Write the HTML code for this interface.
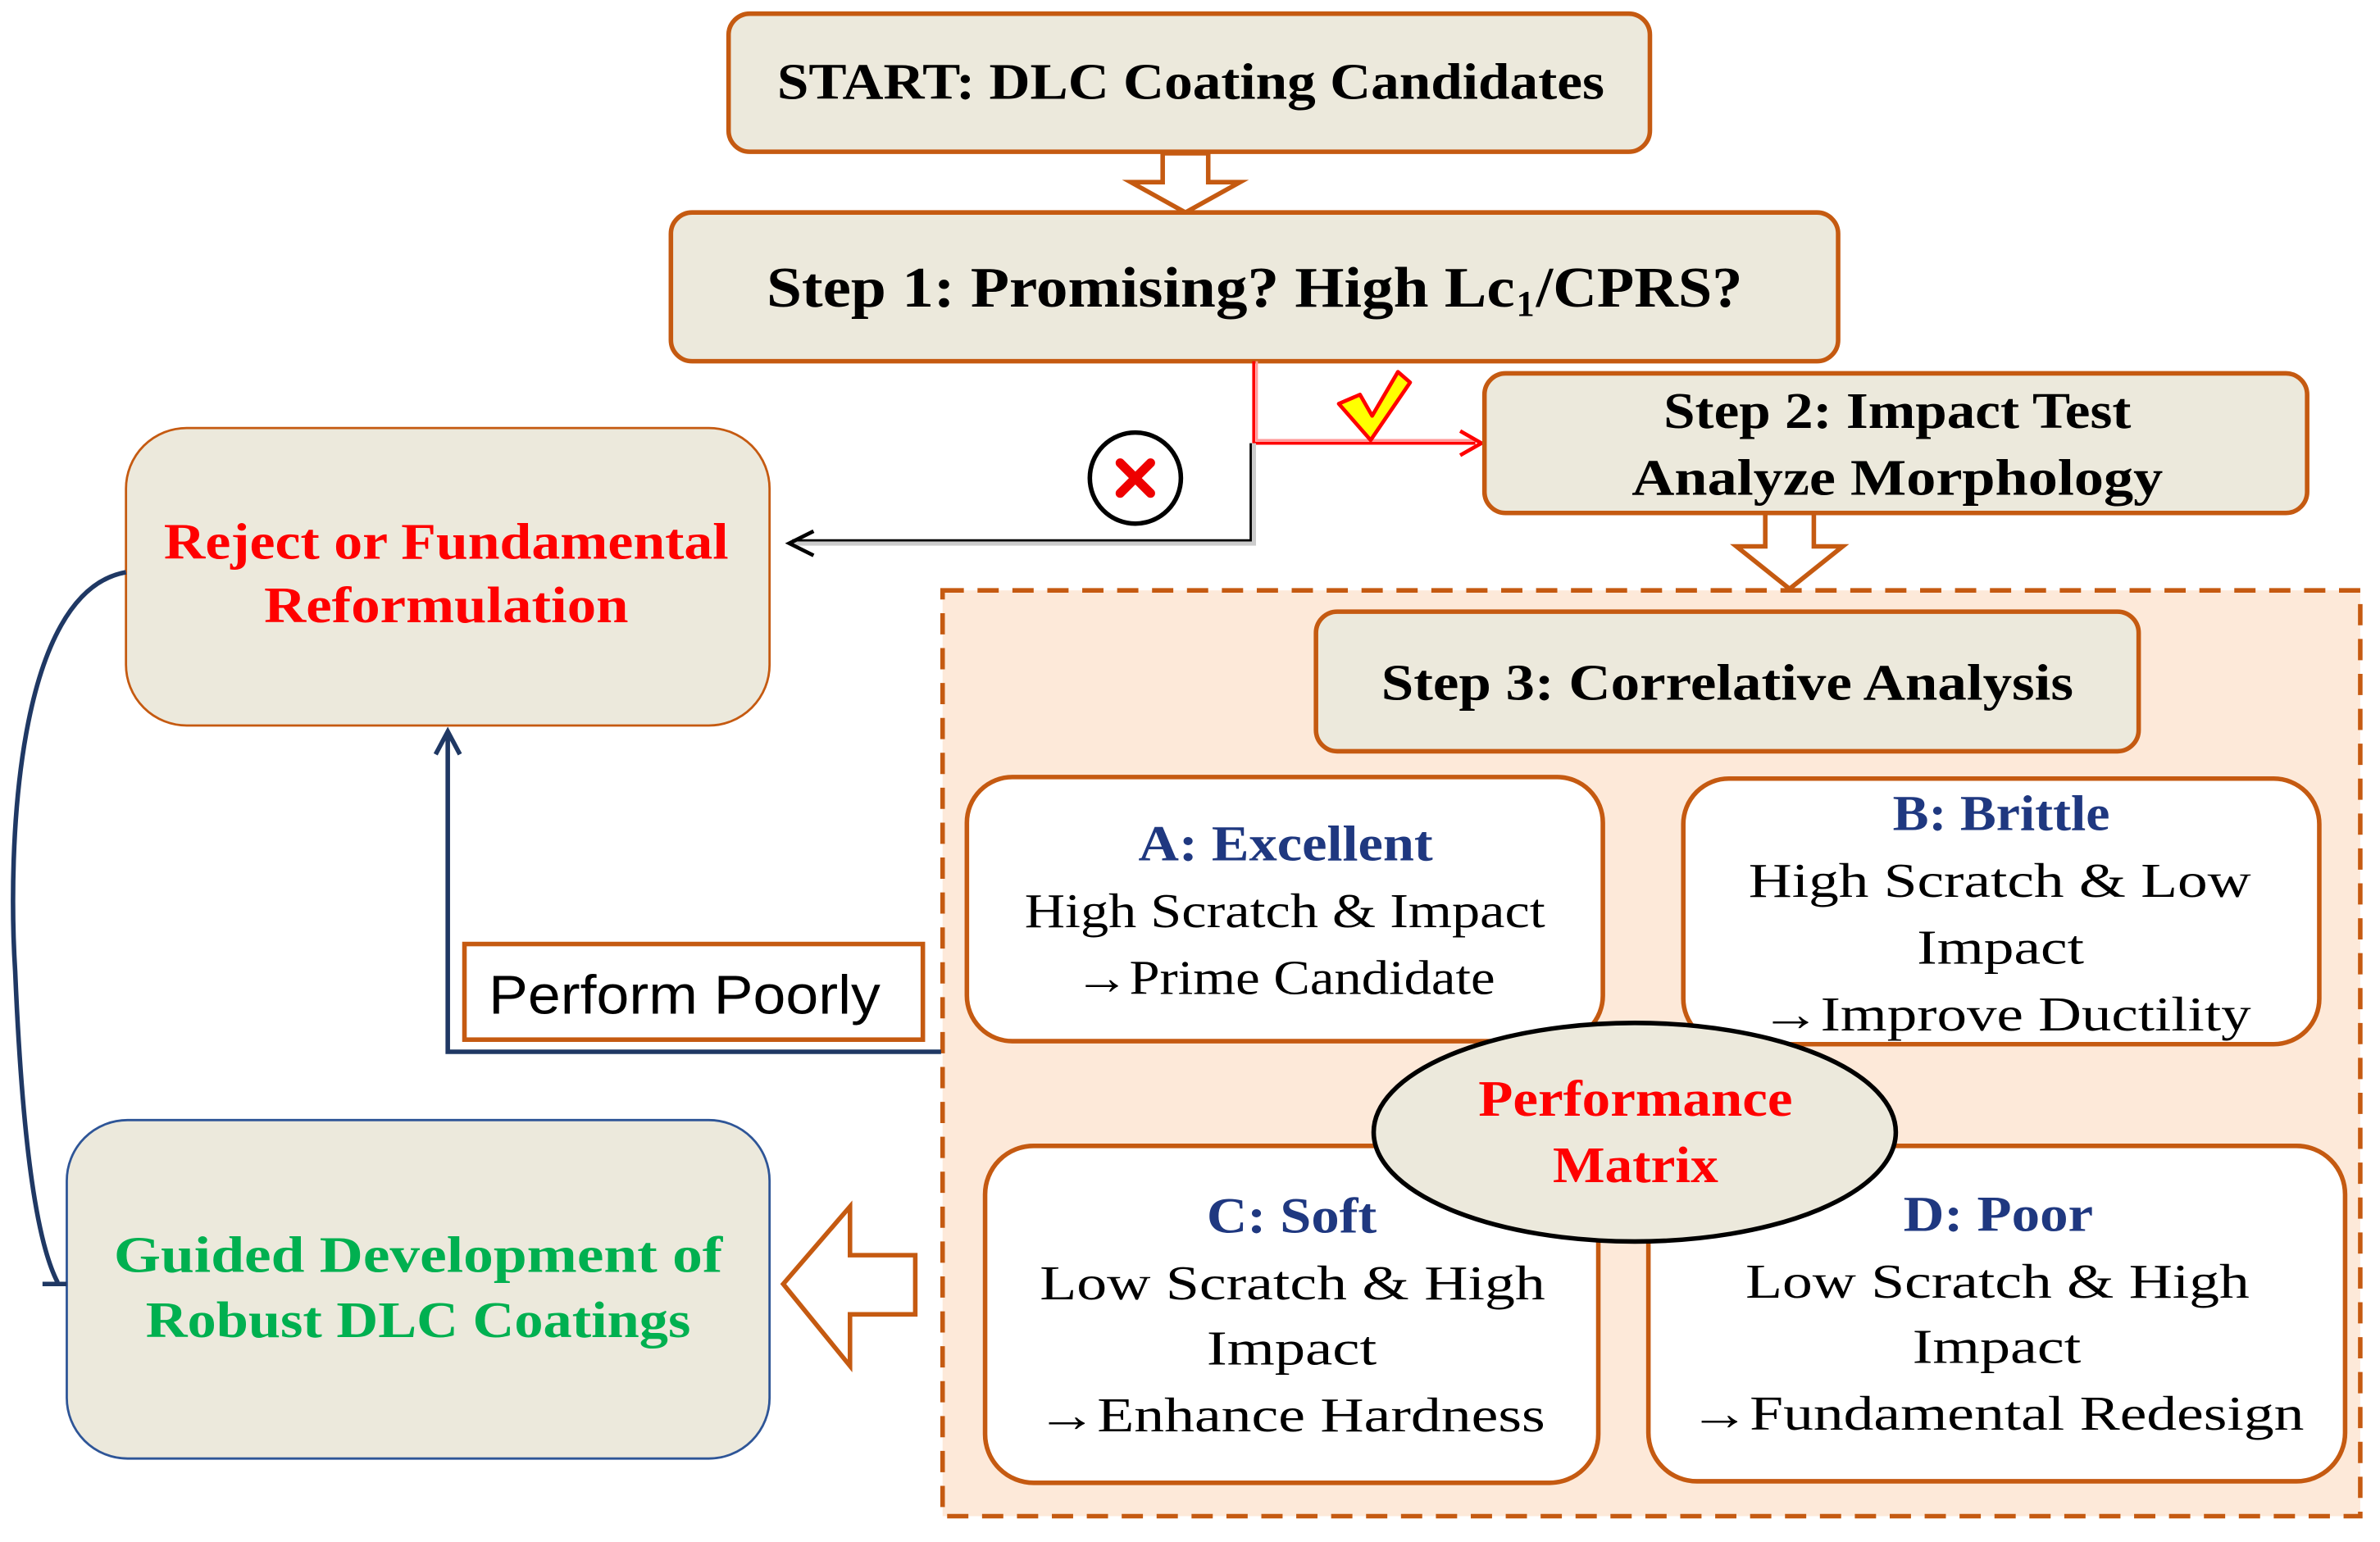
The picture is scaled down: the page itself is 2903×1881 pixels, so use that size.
<!DOCTYPE html>
<html><head><meta charset="utf-8"><style>html,body{margin:0;padding:0;background:#fff}svg{display:block}</style></head>
<body>
<svg width="2903" height="1881" viewBox="0 0 1568 1016" preserveAspectRatio="none" xmlns="http://www.w3.org/2000/svg" font-family="Liberation Serif, serif">
<rect width="1568" height="1016" fill="#fff"/>
<rect x="621" y="389" width="934" height="610" fill="#fde9d9" stroke="#c55a11" stroke-width="3" stroke-dasharray="14,9"/>
<rect x="480" y="9" width="607" height="91" rx="14" fill="#ece9dc" stroke="#c55a11" stroke-width="3"/>
<text x="512" y="65" font-size="34" font-weight="bold" textLength="545" lengthAdjust="spacingAndGlyphs">START: DLC Coating Candidates</text>
<path d="M766 101 H796 V120 H817 L781 140 L745 120 H766 Z" fill="#fff" stroke="#c55a11" stroke-width="3"/>
<rect x="442" y="140" width="769" height="98" rx="14" fill="#ece9dc" stroke="#c55a11" stroke-width="3"/>
<text x="505" y="202" font-size="38" font-weight="bold" textLength="493" lengthAdjust="spacingAndGlyphs">Step 1: Promising? High Lc</text>
<text x="999" y="208" font-size="24" font-weight="bold">1</text>
<text x="1012" y="202" font-size="38" font-weight="bold" textLength="136" lengthAdjust="spacingAndGlyphs">/CPRS?</text>
<path d="M826 238 V292 H972" fill="none" stroke="#f00" stroke-width="2"/>
<path d="M828 238 V290 H972" fill="none" stroke="#f99" stroke-width="1.5"/>
<path d="M962 284 L976 292 L962 300" fill="none" stroke="#f00" stroke-width="2.5"/>
<path d="M826 292 V358 H522" fill="none" stroke="#ccc" stroke-width="3"/>
<path d="M824 292 V356 H522" fill="none" stroke="#000" stroke-width="1.5"/>
<path d="M536 350 L520 358 L536 366" fill="none" stroke="#000" stroke-width="2.5"/>
<path d="M882 266 L896 260 L904 274 L921 245 L929 252 L903 290 Z" fill="#ff0" stroke="#f00" stroke-width="2.5" stroke-linejoin="round"/>
<circle cx="748" cy="315" r="30" fill="#fff" stroke="#000" stroke-width="3"/>
<path d="M738 305 L758 325 M758 305 L738 325" stroke="#e00" stroke-width="6" stroke-linecap="round"/>
<rect x="978" y="246" width="542" height="92" rx="14" fill="#ece9dc" stroke="#c55a11" stroke-width="3"/>
<text x="1096" y="282" font-size="34" font-weight="bold" textLength="308" lengthAdjust="spacingAndGlyphs">Step 2: Impact Test</text>
<text x="1075" y="326" font-size="34" font-weight="bold" textLength="350" lengthAdjust="spacingAndGlyphs">Analyze Morphology</text>
<path d="M1163 338 H1195 V360 H1214 L1179 388 L1144 360 H1163 Z" fill="#fff" stroke="#c55a11" stroke-width="3"/>
<rect x="867" y="403" width="542" height="92" rx="14" fill="#ece9dc" stroke="#c55a11" stroke-width="3"/>
<text x="910" y="461" font-size="34" font-weight="bold" textLength="456" lengthAdjust="spacingAndGlyphs">Step 3: Correlative Analysis</text>
<rect x="637" y="512" width="419" height="174" rx="30" fill="#fff" stroke="#c55a11" stroke-width="3"/>
<text x="750" y="567" font-size="33" font-weight="bold" fill="#1f3880" textLength="194" lengthAdjust="spacingAndGlyphs">A: Excellent</text>
<text x="675" y="611" font-size="32" textLength="343" lengthAdjust="spacingAndGlyphs">High Scratch &amp; Impact</text>
<text x="708" y="655" font-size="32" textLength="277" lengthAdjust="spacingAndGlyphs">→Prime Candidate</text>
<rect x="1109" y="513" width="419" height="175" rx="30" fill="#fff" stroke="#c55a11" stroke-width="3"/>
<text x="1247" y="547" font-size="33" font-weight="bold" fill="#1f3880" textLength="143" lengthAdjust="spacingAndGlyphs">B: Brittle</text>
<text x="1152" y="591" font-size="32" textLength="331" lengthAdjust="spacingAndGlyphs">High Scratch &amp; Low</text>
<text x="1263" y="635" font-size="32" textLength="110" lengthAdjust="spacingAndGlyphs">Impact</text>
<text x="1160" y="679" font-size="32" textLength="323" lengthAdjust="spacingAndGlyphs">→Improve Ductility</text>
<rect x="649" y="755" width="404" height="222" rx="32" fill="#fff" stroke="#c55a11" stroke-width="3"/>
<text x="795" y="812" font-size="33" font-weight="bold" fill="#1f3880" textLength="112" lengthAdjust="spacingAndGlyphs">C: Soft</text>
<text x="685" y="856" font-size="32" textLength="333" lengthAdjust="spacingAndGlyphs">Low Scratch &amp; High</text>
<text x="795" y="899" font-size="32" textLength="112" lengthAdjust="spacingAndGlyphs">Impact</text>
<text x="683" y="943" font-size="32" textLength="335" lengthAdjust="spacingAndGlyphs">→Enhance Hardness</text>
<rect x="1086" y="755" width="459" height="221" rx="32" fill="#fff" stroke="#c55a11" stroke-width="3"/>
<text x="1254" y="811" font-size="33" font-weight="bold" fill="#1f3880" textLength="125" lengthAdjust="spacingAndGlyphs">D: Poor</text>
<text x="1150" y="855" font-size="32" textLength="332" lengthAdjust="spacingAndGlyphs">Low Scratch &amp; High</text>
<text x="1260" y="898" font-size="32" textLength="111" lengthAdjust="spacingAndGlyphs">Impact</text>
<text x="1113" y="942" font-size="32" textLength="405" lengthAdjust="spacingAndGlyphs">→Fundamental Redesign</text>
<ellipse cx="1077" cy="746" rx="172" ry="72" fill="#ece9dc" stroke="#000" stroke-width="3"/>
<text x="974" y="735" font-size="34" font-weight="bold" fill="#f00" textLength="207" lengthAdjust="spacingAndGlyphs">Performance</text>
<text x="1023" y="779" font-size="34" font-weight="bold" fill="#f00" textLength="109" lengthAdjust="spacingAndGlyphs">Matrix</text>
<rect x="83" y="282" width="424" height="196" rx="40" fill="#ece9dc" stroke="#c55a11" stroke-width="1.5"/>
<text x="108" y="368" font-size="34" font-weight="bold" fill="#f00" textLength="372" lengthAdjust="spacingAndGlyphs">Reject or Fundamental</text>
<text x="174" y="410" font-size="34" font-weight="bold" fill="#f00" textLength="240" lengthAdjust="spacingAndGlyphs">Reformulation</text>
<rect x="44" y="738" width="463" height="223" rx="40" fill="#ece9dc" stroke="#2e5597" stroke-width="1.5"/>
<text x="75" y="838" font-size="34" font-weight="bold" fill="#00b050" textLength="401" lengthAdjust="spacingAndGlyphs">Guided Development of</text>
<text x="96" y="881" font-size="34" font-weight="bold" fill="#00b050" textLength="359" lengthAdjust="spacingAndGlyphs">Robust DLC Coatings</text>
<path d="M603 827 V866 H560 V900 L516 846 L560 795 V827 Z" fill="#fff" stroke="#c55a11" stroke-width="3"/>
<path d="M620 693 H295 V484" fill="none" stroke="#1f3864" stroke-width="3"/>
<path d="M287 497 L295 482 L303 497" fill="none" stroke="#1f3864" stroke-width="3"/>
<rect x="306" y="622" width="302" height="63" fill="#fff" stroke="#c55a11" stroke-width="3"/>
<text x="322" y="668" font-size="36" font-family="Liberation Sans, sans-serif" textLength="258" lengthAdjust="spacingAndGlyphs">Perform Poorly</text>
<path d="M83 377 C10 390 5 560 10 640 C15 760 25 820 38 845" fill="none" stroke="#1f3864" stroke-width="3"/>
<path d="M28 846 H44" stroke="#1f3864" stroke-width="3"/>
</svg>
</body></html>
